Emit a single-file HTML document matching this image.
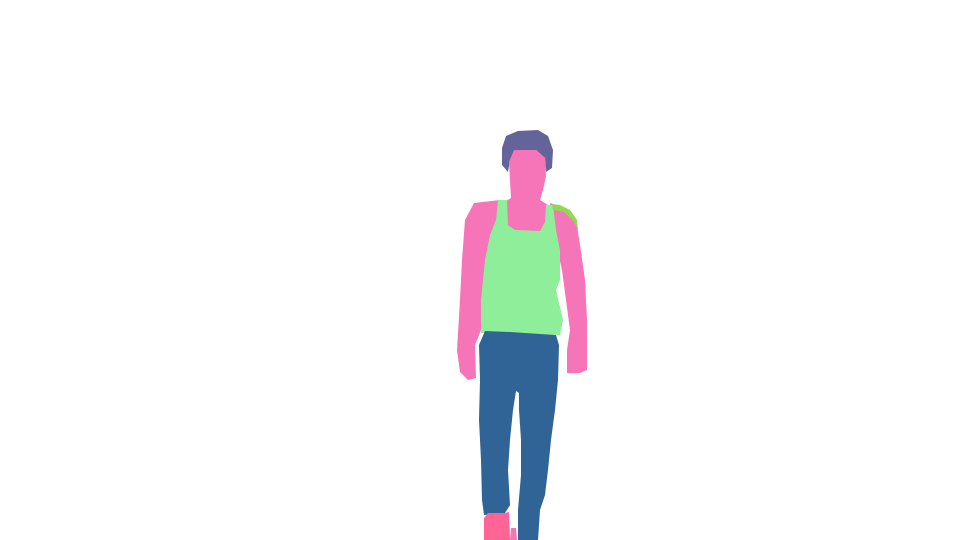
<!DOCTYPE html>
<html><head><meta charset="utf-8"><style>html,body{margin:0;padding:0;background:#fff;width:960px;height:540px;overflow:hidden}</style></head>
<body>
<svg width="960" height="540" viewBox="0 0 960 540">
<rect width="960" height="540" fill="#fff"/>
<path fill="#F674B8" d="M474,203 L500,200 L502,240 L490,260 L486,300 L481,330 L475,345 L476,378 L468,380 L460,372 L457,350 L460,300 L462,260 L465,220 Z"/>
<path fill="#F674B8" d="M550,203 L566,208 L576,220 L580,245 L585,280 L587,320 L587,370 L580,373 L567,373 L567,350 L570,330 L566,300 L562,270 L555,240 Z"/>
<path fill="#64649A" d="M506,136 L518,131 L538,130 L548,136 L553,150 L552,168 L546,172 L545,158 L536,150 L515,150 L510,160 L508,172 L502,165 L502,148 Z"/>
<path fill="#F674B8" d="M514,150 L536,150 L545,158 L546,176 L543,190 L540,200 L548,205 L550,230 L530,232 L505,230 L500,205 L511,198 L510,180 L509,162 Z"/>
<path fill="#8FEE9A" d="M498,200 L507,200 L508,225 L515,230 L540,231 L545,222 L546,205 L553,205 L556,230 L560,250 L560,280 L556,290 L563,320 L560,335 L500,333 L481,333 L481,300 L485,260 L490,235 L496,220 Z"/>
<path fill="#90D850" d="M552,204 L560,205 L570,210 L577,220 L578,230 L574,222 L564,212 L553,210 Z"/>
<path fill="#306496" d="M485,331 L510,332 L540,334 L556,335 L559,345 L558,380 L555,410 L551,440 L548,470 L545,495 L540,510 L538,540 L518,540 L518,510 L521,475 L521,440 L519,410 L519,393 L516,391 L513,410 L510,440 L508,470 L510,505 L505,513 L484,515 L482,500 L481,460 L479,420 L480,380 L479,345 Z"/>
<path fill="#FF6496" d="M488,513 L505,513 L509,512 L510,540 L484,540 L484,518 Z"/>
<path fill="#F674B8" d="M511,528 L516,528 L517,540 L510,540 Z"/>
</svg>
</body></html>
